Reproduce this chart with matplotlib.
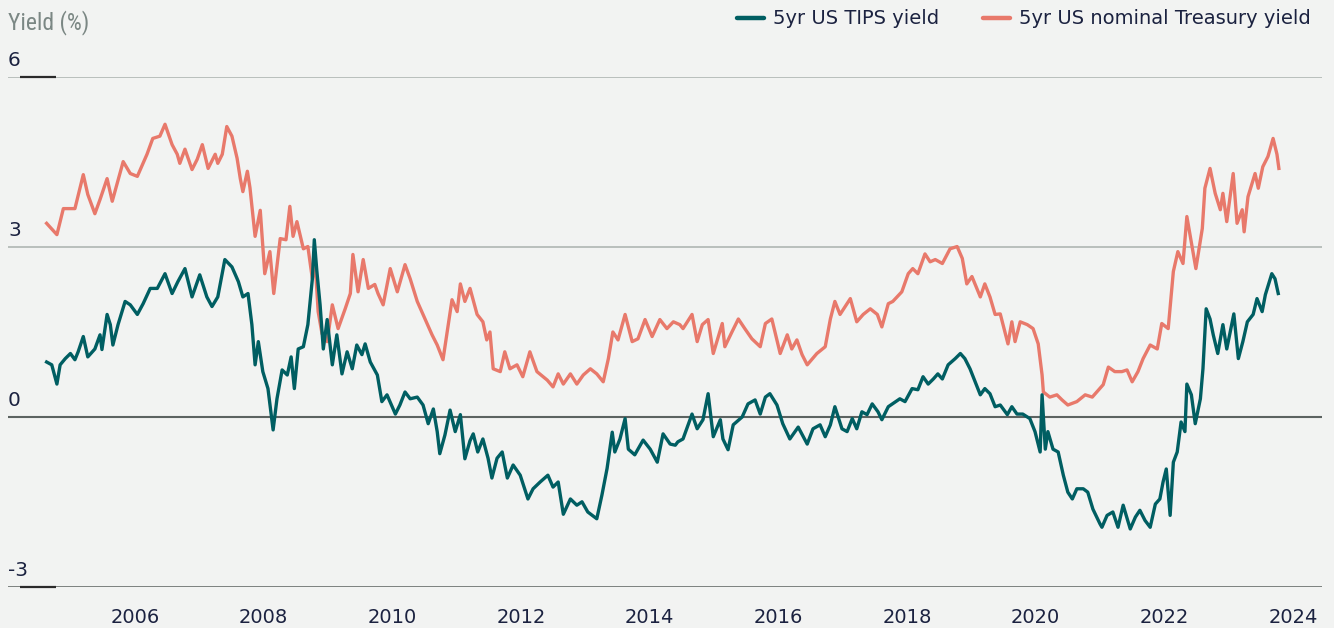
import matplotlib
matplotlib.use("Agg")
import matplotlib.pyplot as plt
from matplotlib.lines import Line2D
from matplotlib import font_manager

# ---------------- data (decimal year, yield %) ----------------
nominal = [(2004.63, 3.42), (2004.79, 3.22), (2004.89, 3.68), (2005.07, 3.68), (2005.20, 4.28), (2005.27, 3.93),
           (2005.38, 3.59), (2005.46, 3.84), (2005.57, 4.21), (2005.65, 3.81), (2005.82, 4.51), (2005.93, 4.30),
           (2006.04, 4.25), (2006.19, 4.64), (2006.28, 4.92), (2006.39, 4.96), (2006.47, 5.17), (2006.58, 4.81),
           (2006.66, 4.64), (2006.70, 4.48), (2006.78, 4.73), (2006.89, 4.37), (2006.97, 4.55), (2007.05, 4.81),
           (2007.14, 4.39), (2007.25, 4.64), (2007.29, 4.48), (2007.36, 4.64), (2007.43, 5.13), (2007.51, 4.96),
           (2007.59, 4.57), (2007.64, 4.21), (2007.68, 3.98), (2007.75, 4.34), (2007.79, 4.05), (2007.87, 3.19),
           (2007.95, 3.65), (2008.02, 2.53), (2008.10, 2.92), (2008.16, 2.18), (2008.26, 3.15), (2008.35, 3.13),
           (2008.41, 3.72), (2008.46, 3.19), (2008.52, 3.45), (2008.62, 2.97), (2008.69, 3.01), (2008.76, 2.44),
           (2008.80, 2.78), (2008.85, 1.86), (2008.91, 1.47), (2008.99, 1.33), (2009.07, 1.98), (2009.16, 1.56),
           (2009.27, 1.91), (2009.35, 2.18), (2009.39, 2.87), (2009.47, 2.21), (2009.55, 2.78), (2009.63, 2.27),
           (2009.73, 2.34), (2009.78, 2.18), (2009.86, 1.98), (2009.97, 2.62), (2010.08, 2.21), (2010.20, 2.69),
           (2010.28, 2.44), (2010.39, 2.04), (2010.48, 1.81), (2010.62, 1.45), (2010.70, 1.27), (2010.79, 1.01),
           (2010.85, 1.47), (2010.93, 2.07), (2011.01, 1.86), (2011.06, 2.35), (2011.13, 2.04), (2011.21, 2.27),
           (2011.32, 1.81), (2011.41, 1.68), (2011.47, 1.36), (2011.52, 1.50), (2011.57, 0.85), (2011.68, 0.80),
           (2011.75, 1.15), (2011.83, 0.85), (2011.94, 0.92), (2012.03, 0.71), (2012.14, 1.15), (2012.25, 0.80),
           (2012.41, 0.65), (2012.50, 0.53), (2012.58, 0.76), (2012.66, 0.58), (2012.77, 0.76), (2012.87, 0.58),
           (2012.97, 0.74), (2013.08, 0.85), (2013.18, 0.76), (2013.28, 0.62), (2013.36, 1.03), (2013.43, 1.50),
           (2013.51, 1.36), (2013.62, 1.81), (2013.73, 1.33), (2013.82, 1.38), (2013.93, 1.72), (2014.04, 1.42),
           (2014.16, 1.72), (2014.27, 1.56), (2014.37, 1.68), (2014.47, 1.63), (2014.52, 1.56), (2014.66, 1.81),
           (2014.74, 1.33), (2014.82, 1.63), (2014.91, 1.72), (2014.99, 1.12), (2015.13, 1.65), (2015.17, 1.24),
           (2015.28, 1.50), (2015.38, 1.73), (2015.48, 1.56), (2015.59, 1.38), (2015.72, 1.24), (2015.80, 1.65),
           (2015.90, 1.73), (2016.03, 1.12), (2016.14, 1.45), (2016.21, 1.20), (2016.29, 1.36), (2016.37, 1.10),
           (2016.45, 0.92), (2016.60, 1.12), (2016.73, 1.24), (2016.81, 1.73), (2016.88, 2.04), (2016.96, 1.81),
           (2017.12, 2.09), (2017.22, 1.68), (2017.32, 1.81), (2017.43, 1.91), (2017.54, 1.81), (2017.61, 1.59),
           (2017.71, 2.00), (2017.78, 2.04), (2017.92, 2.21), (2018.02, 2.53), (2018.09, 2.62), (2018.17, 2.53),
           (2018.28, 2.88), (2018.36, 2.74), (2018.44, 2.78), (2018.55, 2.71), (2018.67, 2.97), (2018.78, 3.01),
           (2018.86, 2.80), (2018.93, 2.35), (2019.01, 2.48), (2019.14, 2.12), (2019.21, 2.35), (2019.29, 2.12),
           (2019.37, 1.81), (2019.45, 1.82), (2019.57, 1.29), (2019.63, 1.68), (2019.68, 1.33), (2019.76, 1.68),
           (2019.87, 1.63), (2019.96, 1.56), (2020.04, 1.29), (2020.10, 0.74), (2020.12, 0.44), (2020.22, 0.35),
           (2020.33, 0.39), (2020.41, 0.30), (2020.50, 0.21), (2020.64, 0.27), (2020.77, 0.39), (2020.88, 0.35),
           (2020.95, 0.44), (2021.05, 0.57), (2021.13, 0.88), (2021.23, 0.80), (2021.34, 0.80), (2021.42, 0.83),
           (2021.50, 0.62), (2021.59, 0.80), (2021.67, 1.03), (2021.78, 1.27), (2021.89, 1.20), (2021.96, 1.65),
           (2022.06, 1.56), (2022.14, 2.57), (2022.21, 2.92), (2022.29, 2.71), (2022.35, 3.54), (2022.43, 3.01),
           (2022.49, 2.62), (2022.59, 3.33), (2022.63, 4.04), (2022.71, 4.39), (2022.79, 3.95), (2022.87, 3.66),
           (2022.91, 3.95), (2022.97, 3.45), (2023.07, 4.30), (2023.13, 3.42), (2023.21, 3.66), (2023.24, 3.27),
           (2023.30, 3.89), (2023.41, 4.30), (2023.46, 4.04), (2023.53, 4.42), (2023.61, 4.60), (2023.69, 4.92),
           (2023.75, 4.64), (2023.78, 4.39)]

tips = [(2004.63, 0.97), (2004.71, 0.92), (2004.79, 0.58), (2004.84, 0.92), (2004.92, 1.03), (2005.00, 1.12),
        (2005.07, 1.01), (2005.12, 1.15), (2005.20, 1.42), (2005.27, 1.06), (2005.38, 1.20), (2005.46, 1.45),
        (2005.49, 1.19), (2005.57, 1.81), (2005.62, 1.63), (2005.66, 1.27), (2005.74, 1.63), (2005.85, 2.04),
        (2005.93, 1.98), (2006.04, 1.81), (2006.13, 2.00), (2006.24, 2.27), (2006.35, 2.27), (2006.47, 2.53),
        (2006.58, 2.18), (2006.67, 2.39), (2006.78, 2.62), (2006.89, 2.12), (2007.01, 2.51), (2007.12, 2.12),
        (2007.20, 1.95), (2007.29, 2.12), (2007.40, 2.78), (2007.51, 2.65), (2007.61, 2.39), (2007.68, 2.12),
        (2007.76, 2.18), (2007.82, 1.63), (2007.87, 0.92), (2007.92, 1.33), (2007.99, 0.80), (2008.07, 0.50),
        (2008.15, -0.23), (2008.21, 0.32), (2008.29, 0.83), (2008.37, 0.74), (2008.43, 1.06), (2008.48, 0.50),
        (2008.54, 1.20), (2008.62, 1.24), (2008.69, 1.63), (2008.76, 2.44), (2008.79, 3.13), (2008.83, 2.57),
        (2008.88, 1.98), (2008.93, 1.20), (2008.99, 1.72), (2009.07, 0.92), (2009.14, 1.45), (2009.22, 0.76),
        (2009.30, 1.15), (2009.38, 0.85), (2009.45, 1.27), (2009.53, 1.10), (2009.58, 1.29), (2009.66, 0.97),
        (2009.77, 0.74), (2009.84, 0.27), (2009.92, 0.39), (2010.05, 0.05), (2010.12, 0.21), (2010.20, 0.44),
        (2010.28, 0.32), (2010.39, 0.35), (2010.48, 0.21), (2010.56, -0.12), (2010.64, 0.14), (2010.70, -0.26),
        (2010.74, -0.65), (2010.82, -0.32), (2010.90, 0.12), (2010.98, -0.26), (2011.06, 0.04), (2011.13, -0.74),
        (2011.21, -0.42), (2011.26, -0.30), (2011.33, -0.62), (2011.41, -0.39), (2011.49, -0.73), (2011.55, -1.08),
        (2011.63, -0.73), (2011.71, -0.62), (2011.79, -1.08), (2011.88, -0.85), (2011.99, -1.03), (2012.11, -1.45),
        (2012.19, -1.27), (2012.30, -1.15), (2012.42, -1.03), (2012.50, -1.24), (2012.58, -1.15), (2012.66, -1.72),
        (2012.77, -1.45), (2012.87, -1.56), (2012.95, -1.50), (2013.04, -1.68), (2013.18, -1.80), (2013.26, -1.38),
        (2013.34, -0.91), (2013.42, -0.27), (2013.46, -0.62), (2013.54, -0.39), (2013.62, -0.03), (2013.67, -0.57),
        (2013.77, -0.67), (2013.90, -0.41), (2014.01, -0.57), (2014.12, -0.80), (2014.21, -0.30), (2014.32, -0.48),
        (2014.40, -0.50), (2014.44, -0.44), (2014.52, -0.39), (2014.66, 0.05), (2014.74, -0.21), (2014.83, -0.05),
        (2014.91, 0.41), (2014.99, -0.35), (2015.10, -0.05), (2015.14, -0.39), (2015.22, -0.58), (2015.30, -0.14),
        (2015.44, 0.00), (2015.53, 0.23), (2015.64, 0.30), (2015.72, 0.05), (2015.80, 0.35), (2015.87, 0.41),
        (2015.98, 0.21), (2016.07, -0.12), (2016.18, -0.39), (2016.31, -0.18), (2016.45, -0.48), (2016.54, -0.21),
        (2016.65, -0.14), (2016.73, -0.35), (2016.81, -0.14), (2016.88, 0.18), (2016.99, -0.21), (2017.07, -0.26),
        (2017.15, -0.03), (2017.22, -0.21), (2017.30, 0.09), (2017.38, 0.04), (2017.46, 0.23), (2017.55, 0.09),
        (2017.61, -0.05), (2017.71, 0.18), (2017.89, 0.32), (2017.97, 0.27), (2018.08, 0.50), (2018.17, 0.48),
        (2018.25, 0.71), (2018.33, 0.58), (2018.41, 0.67), (2018.48, 0.76), (2018.55, 0.67), (2018.64, 0.92),
        (2018.75, 1.03), (2018.83, 1.12), (2018.90, 1.03), (2018.98, 0.85), (2019.06, 0.62), (2019.14, 0.39),
        (2019.21, 0.50), (2019.29, 0.41), (2019.37, 0.18), (2019.45, 0.21), (2019.56, 0.04), (2019.63, 0.18),
        (2019.71, 0.05), (2019.80, 0.05), (2019.91, -0.03), (2019.99, -0.26), (2020.07, -0.62), (2020.10, 0.39),
        (2020.15, -0.57), (2020.19, -0.26), (2020.27, -0.57), (2020.35, -0.62), (2020.43, -1.03), (2020.50, -1.33),
        (2020.57, -1.45), (2020.64, -1.27), (2020.74, -1.27), (2020.81, -1.33), (2020.89, -1.63), (2021.00, -1.89),
        (2021.03, -1.95), (2021.11, -1.74), (2021.20, -1.68), (2021.28, -1.95), (2021.36, -1.56), (2021.47, -1.98),
        (2021.55, -1.77), (2021.62, -1.65), (2021.70, -1.83), (2021.78, -1.95), (2021.86, -1.54), (2021.93, -1.45),
        (2021.98, -1.15), (2022.03, -0.92), (2022.09, -1.74), (2022.14, -0.80), (2022.20, -0.62), (2022.26, -0.09),
        (2022.32, -0.26), (2022.35, 0.58), (2022.42, 0.39), (2022.48, -0.12), (2022.56, 0.32), (2022.60, 0.85),
        (2022.65, 1.91), (2022.71, 1.73), (2022.76, 1.45), (2022.83, 1.12), (2022.91, 1.63), (2022.97, 1.20),
        (2023.08, 1.82), (2023.15, 1.03), (2023.22, 1.33), (2023.29, 1.68), (2023.38, 1.81), (2023.44, 2.09),
        (2023.52, 1.86), (2023.57, 2.16), (2023.67, 2.53), (2023.72, 2.44), (2023.77, 2.18)]

y_ticks = [6, 3, 0, -3]
y_tick_labels = ["6", "3", "0", "-3"]
x_ticks = [2006, 2008, 2010, 2012, 2014, 2016, 2018, 2020, 2022, 2024]
x_tick_labels = [str(v) for v in x_ticks]
series_labels = ["5yr US TIPS yield", "5yr US nominal Treasury yield"]

# ---------------- style ----------------
BG = "#f2f3f2"
TEAL = "#005e62"
SALMON = "#e8796b"
NAVY = "#1b2240"
GRID_LIGHT = "#aab1ae"
GRID_DARK = "#5c6361"

available = {f.name for f in font_manager.fontManager.ttflist}
narrow = next((f for f in ["Roboto Condensed", "Liberation Sans Narrow", "Roboto"] if f in available), "DejaVu Sans")

W, H = 1334, 628
fig = plt.figure(figsize=(W / 100, H / 100), dpi=100, facecolor=BG)
left_px, right_px, top_px, bot_px = 8, 1322, 77.3, 586.7
ax = fig.add_axes([left_px / W, 1 - bot_px / H, (right_px - left_px) / W, (bot_px - top_px) / H])
ax.set_facecolor(BG)
for s in ax.spines.values():
    s.set_visible(False)

ax.set_xlim(2004.03, 2024.45)
ax.set_ylim(-3, 6)

# horizontal reference lines
grid_style = {6: (GRID_LIGHT, 1.1), 3: (GRID_LIGHT, 1.1), 0: (GRID_DARK, 1.5), -3: (GRID_DARK, 1.1)}
for v in y_ticks:
    c, lw = grid_style[v]
    ax.axhline(v, color=c, lw=lw, zorder=1)
ytr = ax.get_yaxis_transform()
for v in (6, -3):
    ax.plot([12 / 1314, 48 / 1314], [v, v], color="#2a2a2a", lw=1.6, transform=ytr,
            solid_capstyle="butt", zorder=2, clip_on=False)

# y labels above the lines
for v, lab in zip(y_ticks, y_tick_labels):
    ax.annotate(lab, xy=(0, v), xycoords=ytr, xytext=(0, 7.8), textcoords="offset points",
                ha="left", va="baseline", fontsize=14.5, color=NAVY)

# series
nx, ny = zip(*nominal)
tx, ty = zip(*tips)
ax.plot(nx, ny, color=SALMON, lw=2.4, zorder=3, solid_joinstyle="round")
ax.plot(tx, ty, color=TEAL, lw=2.4, zorder=4, solid_joinstyle="round")

# x axis
ax.set_yticks([])
ax.set_xticks(x_ticks)
ax.set_xticklabels(x_tick_labels, fontsize=14, color=NAVY)
ax.tick_params(axis="x", length=0, pad=15.5)

# title
fig.text(8 / W, 1 - 29 / H, "Yield (%)", ha="left", va="baseline", fontsize=17,
         color="#7b8784", family=narrow)

# legend (manual)
leg_y = 1 - 18 / H
for (x0, x1, tx0), col, lab in zip([(737, 764, 773), (983, 1010, 1019)], [TEAL, SALMON], series_labels):
    fig.add_artist(Line2D([x0 / W, x1 / W], [leg_y, leg_y], transform=fig.transFigure,
                          color=col, lw=3.2, solid_capstyle="round"))
    fig.text(tx0 / W, 1 - 24.5 / H, lab, ha="left", va="baseline", fontsize=14, color=NAVY)

fig.savefig("out.png", dpi=100, facecolor=BG)
